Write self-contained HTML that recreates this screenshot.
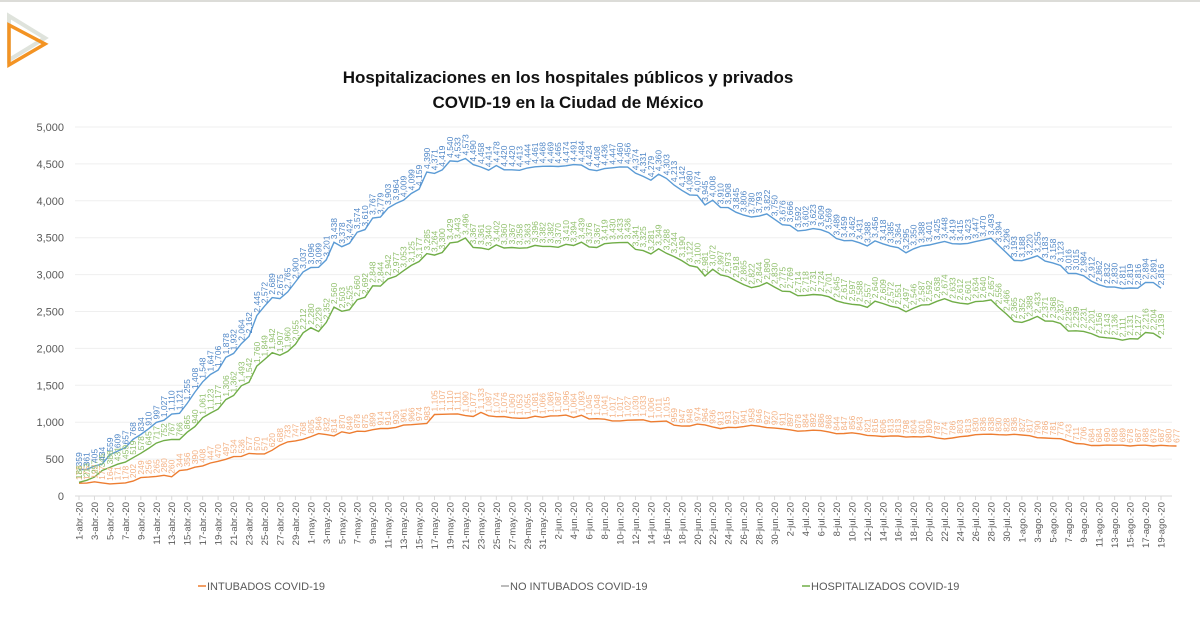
<!DOCTYPE html>
<html><head><meta charset="utf-8">
<style>
html,body{margin:0;padding:0;background:#fff;}
body{width:1200px;height:621px;overflow:hidden;font-family:"Liberation Sans",sans-serif;}
</style></head>
<body>
<svg id="chart" width="1200" height="621" xmlns="http://www.w3.org/2000/svg" font-family="Liberation Sans, sans-serif">
<rect x="0" y="0" width="1200" height="2" fill="#dcdcd8"/>
<g>
<polygon points="9,19 9,63 45,41" fill="none" stroke="#dfe3dc" stroke-width="4" transform="translate(0,-3)"/>
<polygon points="9,25 9,65 45,44" fill="none" stroke="#f39323" stroke-width="3.5"/>
</g>
<text x="568" y="83" text-anchor="middle" font-size="17" font-weight="bold" fill="#111">Hospitalizaciones en los hospitales públicos y privados</text>
<text x="568" y="108" text-anchor="middle" font-size="17" font-weight="bold" fill="#111">COVID-19 en la Ciudad de México</text>
<g id="grid"></g><g id="yaxis"></g><g id="xaxis"></g><g id="series"></g><g id="labels"></g>
<g>
<g><line x1="198" y1="586" x2="206" y2="586" stroke="#ed7d31" stroke-width="1.5"/><text x="207" y="590" font-size="11" fill="#595959">INTUBADOS COVID-19</text></g>
<g><line x1="501" y1="586" x2="509" y2="586" stroke="#a5a5a5" stroke-width="1.5"/><text x="510" y="590" font-size="11" fill="#595959">NO INTUBADOS COVID-19</text></g>
<g><line x1="802" y1="586" x2="810" y2="586" stroke="#70ad47" stroke-width="1.5"/><text x="811" y="590" font-size="11" fill="#595959">HOSPITALIZADOS COVID-19</text></g>
</g>
</svg>
<script>
const hospitalizados=[359,361,405,434,559,609,657,768,834,910,997,1027,1110,1121,1255,1408,1548,1647,1706,1878,1932,2064,2162,2445,2572,2689,2675,2765,2900,3037,3096,3099,3201,3438,3378,3424,3574,3610,3767,3779,3903,3964,4009,4099,4159,4390,4371,4419,4540,4533,4573,4490,4458,4414,4478,4420,4420,4413,4444,4461,4468,4469,4465,4474,4491,4484,4424,4408,4436,4447,4460,4456,4374,4331,4279,4360,4303,4213,4142,4080,4074,3945,4008,3910,3908,3845,3806,3780,3793,3822,3750,3676,3666,3592,3602,3623,3609,3569,3489,3459,3462,3431,3388,3456,3418,3385,3364,3295,3350,3388,3401,3425,3448,3419,3415,3423,3447,3470,3493,3394,3296,3193,3188,3220,3255,3183,3158,3123,3016,3015,2984,2912,2862,2832,2830,2811,2819,2816,2894,2891,2816];
const noIntubados=[186,213,257,345,388,431,459,519,578,645,717,752,767,766,865,940,1061,1123,1177,1306,1362,1493,1542,1760,1849,1942,1907,1960,2055,2212,2280,2229,2352,2560,2503,2525,2660,2692,2848,2844,2942,2977,3053,3125,3177,3285,3264,3300,3429,3443,3496,3367,3361,3340,3402,3360,3367,3358,3363,3396,3382,3382,3370,3410,3394,3439,3376,3367,3419,3430,3433,3436,3341,3325,3281,3349,3288,3244,3190,3122,3100,2981,3072,2997,2973,2918,2865,2822,2844,2890,2830,2775,2769,2714,2718,2731,2724,2701,2645,2617,2597,2588,2557,2640,2609,2572,2551,2497,2546,2587,2592,2638,2674,2633,2612,2601,2634,2640,2657,2556,2466,2365,2352,2388,2433,2371,2368,2337,2235,2239,2231,2201,2156,2143,2136,2111,2131,2127,2216,2204,2139];
const intubados=[173,175,192,177,164,171,178,202,249,256,265,280,260,344,356,390,408,447,470,497,534,536,577,570,571,620,688,733,747,768,805,846,832,814,870,849,878,875,899,914,914,930,961,966,974,983,1105,1107,1110,1111,1090,1077,1133,1087,1074,1076,1060,1053,1055,1081,1066,1086,1087,1096,1064,1093,1045,1048,1041,1017,1017,1027,1030,1033,1006,1011,1015,959,947,948,974,964,936,913,931,927,941,958,946,927,920,911,897,878,884,892,886,868,844,847,856,843,821,816,806,813,813,798,804,801,809,787,774,786,803,813,830,836,838,830,828,836,827,817,790,786,781,776,743,711,706,684,684,690,688,689,678,687,688,678,687,680,677];
const yTicks=[0,500,1000,1500,2000,2500,3000,3500,4000,4500,5000];
const months=["abr","may","jun","jul","ago"];
const monthDays=[30,31,30,31,19];

const NS="http://www.w3.org/2000/svg";
const X0=79,X1=1161,Y0=496,Y1=127,YMAX=5000;
const n=hospitalizados.length;
function xs(i){return X0+(X1-X0)*i/(n-1);}
function ys(v){return Y0-(Y0-Y1)*v/YMAX;}
function mk(tag,attrs,parent){const e=document.createElementNS(NS,tag);for(const k in attrs)e.setAttribute(k,attrs[k]);parent.appendChild(e);return e;}
const grid=document.getElementById('grid'),yax=document.getElementById('yaxis'),xax=document.getElementById('xaxis'),ser=document.getElementById('series'),lab=document.getElementById('labels');
yTicks.forEach(t=>{
  const l=mk('line',{x1:75,x2:1172,y1:ys(t),y2:ys(t),stroke:t===0?'#d9d9d9':'#efefef','stroke-width':1},grid);
  
  
  const tx=mk('text',{x:64,y:ys(t)+4,'text-anchor':'end','font-size':11,fill:'#595959'},yax);
  tx.textContent=t.toLocaleString('en-US');
  
  
});
const dates=[];
months.forEach((m,mi)=>{for(let d=1;d<=monthDays[mi];d++)dates.push(d+'-'+m+'.-20');});
dates.forEach((d,i)=>{
  if(i%2)return;
  const x=xs(i);
  const tk=mk('line',{x1:x,x2:x,y1:Y0,y2:Y0+4,stroke:'#d9d9d9'},xax);
  
  
  const t=mk('text',{transform:`translate(${x+3.5},${Y0+6}) rotate(-90)`,'text-anchor':'end','font-size':9.5,fill:'#595959'},xax);
  t.textContent=d;
  
  
});
function series(arr,color,name,lblColor){
  const p=mk('polyline',{points:arr.map((v,i)=>xs(i).toFixed(1)+','+ys(v).toFixed(1)).join(' '),fill:'none',stroke:color,'stroke-width':1.4},ser);
  
  
  arr.forEach((v,i)=>{
    const t=mk('text',{transform:`translate(${(xs(i)+3).toFixed(1)},${(ys(v)-3).toFixed(1)}) rotate(-90)`,'font-size':8.5,fill:lblColor},lab);
    t.textContent=v.toLocaleString('en-US');
    
    
  });
}
series(intubados,'#ed7d31','intubados-line','#f4b183');
series(noIntubados,'#70ad47','no-intubados-line','#8fbf6a');
series(hospitalizados,'#5b9bd5','hospitalizados-line','#4f86c6');
</script>
</body></html>
